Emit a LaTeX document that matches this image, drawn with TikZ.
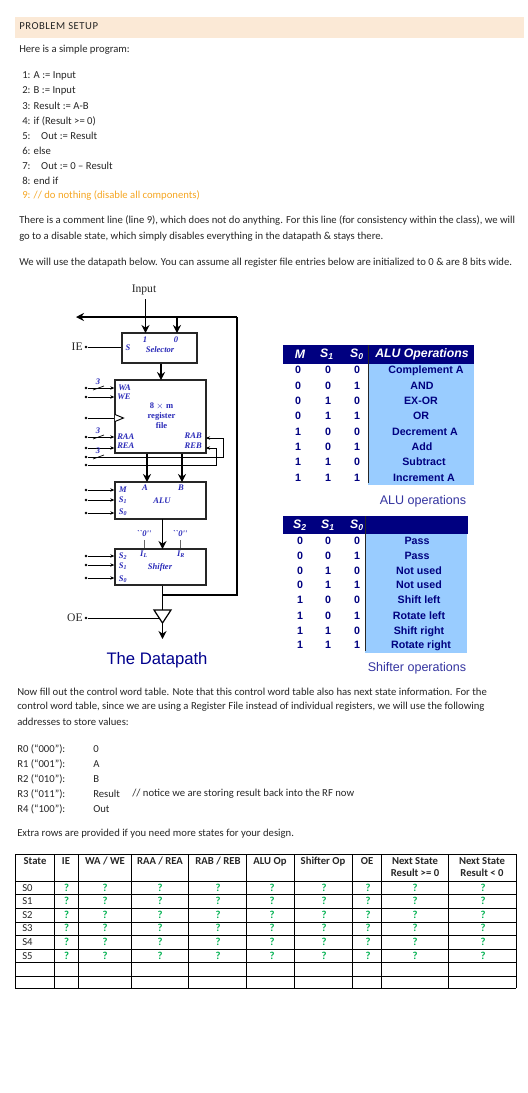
\documentclass[tikz,border=0pt]{standalone}
\usepackage{fontspec}
\setmainfont{Carlito}
\setsansfont{Liberation Sans}
\newfontfamily\dpfont{Liberation Serif}
\usetikzlibrary{arrows.meta,positioning,calc}
\definecolor{setupband}{HTML}{FBE9D6}
\definecolor{commentc}{HTML}{F5A623}
\definecolor{qmarkc}{HTML}{00B050}
\definecolor{labelblue}{HTML}{2A2AB8}
\definecolor{headnavy}{HTML}{000080}
\definecolor{opsfill}{HTML}{99CCFF}
\definecolor{capblue}{HTML}{33339F}
\def\px{0.75pt}
\tikzset{
  bodytxt/.style={anchor=west, inner sep=0pt, font=\fontsize{8}{9.5}\selectfont, text=black!85},
  codetxt/.style={bodytxt},
  cmttxt/.style={bodytxt, text=commentc},
  cellhead/.style={inner sep=0pt, align=center, font=\fontsize{8}{9}\selectfont\bfseries, text=black!85},
  qmark/.style={inner sep=0pt, font=\fontsize{8}{9}\selectfont\bfseries, text=qmarkc},
  gridline/.style={line width=0.75pt, color=black},
  % datapath
  blockbox/.style={draw=black!85, line width=1pt, fill=white, inner sep=0pt},
  dplabel/.style={inner sep=0pt, font=\dpfont\fontsize{6.4}{7}\selectfont\bfseries\itshape, text=labelblue, align=center},
  dpname/.style={inner sep=0pt, font=\dpfont\fontsize{8.7}{10}\selectfont, text=black!85},
  bus/.style={-{Stealth[length=6pt,width=6pt]}, line width=1.2pt, color=black},
  busline/.style={line width=1.2pt, color=black},
  wire/.style={-{Stealth[length=3pt,width=2.6pt]}, line width=0.5pt, color=black},
  plainwire/.style={line width=0.5pt, color=black},
  pindot/.style={circle, fill=black, inner sep=0pt, minimum size=2.2pt},
  % operation tables
  headbar/.style={fill=headnavy, draw=none},
  headtxt/.style={inner sep=0pt, font=\sffamily\fontsize{9.2}{10}\selectfont\bfseries\itshape, text=white},
  bittxt/.style={inner sep=0pt, text height=5.8pt, text depth=0pt, font=\sffamily\fontsize{8}{9}\selectfont\bfseries, text=headnavy},
  optxt/.style={inner sep=0pt, text height=5.8pt, text depth=0pt, font=\sffamily\fontsize{8}{9}\selectfont\bfseries, text=headnavy},
  optitle/.style={inner sep=0pt, font=\sffamily\fontsize{9.4}{11}\selectfont, text=capblue},
}
\begin{document}
\begin{tikzpicture}[x=0.75pt,y=-0.75pt]
  \useasboundingbox (0,0) rectangle (528,1093);
  % top text
  \fill[setupband] (15,17) rectangle (524,38);
  \node[bodytxt] (setup) at (19,26) {\addfontfeature{LetterSpace=5}PROBLEM SETUP};
  \node[bodytxt] (intro) at (19,50) {Here is a simple program:};
  \node[codetxt] (c1) at (22,76) {1: A := Input};
  \node[codetxt] (c2) at (22,91) {2: B := Input};
  \node[codetxt] (c3) at (22,106) {3: Result := A-B};
  \node[codetxt] (c4) at (22,121) {4: if (Result >= 0)};
  \node[codetxt] (c5) at (22,136) {5:\hspace{8pt}Out := Result};
  \node[codetxt] (c6) at (22,151) {6: else};
  \node[codetxt] (c7) at (22,166) {7:\hspace{8pt}Out := 0 -- Result};
  \node[codetxt] (c8) at (22,181) {8: end if};
  \node[cmttxt] (c9) at (22,196) {9: // do nothing (disable all components)};
  \node[bodytxt] (p1a) at (19,221) {There is a comment line (line 9), which does not do anything. For this line (for consistency within the class), we will};
  \node[bodytxt] (p1b) at (19,237) {go to a disable state, which simply disables everything in the datapath \& stays there.};
  \node[bodytxt] (p2) at (19,263) {We will use the datapath below. You can assume all register file entries below are initialized to 0 \& are 8 bits wide.};

  % datapath blocks
  \node[dpname] (input) at (144,290) {Input};
  \node[blockbox, minimum width=75*\px, minimum height=30*\px] (sel) at (159.5,348) {};
  \node[blockbox, minimum width=91*\px, minimum height=73*\px] (rf) at (160.5,416.5) {};
  \node[blockbox, minimum width=91*\px, minimum height=37*\px] (alu) at (160.5,500.5) {};
  \node[blockbox, minimum width=91*\px, minimum height=36*\px] (shf) at (160.5,567) {};
  \coordinate (instart) at (145.5,299);
  \coordinate (insel) at (145.5,333);
  \coordinate (zerosel) at (177,333);
  \coordinate (busend) at (76,317);
  \coordinate (buscorner) at (237,317);
  \coordinate (fbcorner) at (237,595);
  \coordinate (fbtap) at (162.5,595);
  \coordinate (rfin) at (161,380);
  \coordinate (aluA) at (147,482);
  \coordinate (aluB) at (182,482);
  \coordinate (shfin) at (162.5,549);
  \coordinate (aluout) at (162.5,519);
  \coordinate (triL) at (154,610);
  \coordinate (triR) at (171,610);
  \coordinate (triT) at (162.5,610);
  \coordinate (triB) at (162.5,623);
  \coordinate (triE) at (158.5,618);
  \coordinate (outend) at (162.5,639);
  % selector labels
  \node[dplabel] (l1) at (145,339.5) {1};
  \node[dplabel] (l0) at (176,339.5) {0};
  \node[dplabel] (ls) at (128,348) {S};
  \node[dplabel] (lsel) at (160,350) {Selector};
  % register file labels
  \node[dplabel, anchor=west] (lwa) at (118,388) {WA};
  \node[dplabel, anchor=west] (lwe) at (117,397) {WE};
  \node[dplabel, font=\dpfont\fontsize{6.4}{7}\selectfont\bfseries] (lrf) at (161.5,416) {8 $\times$ m\\[0.5pt]register\\[0.5pt]file};
  \node[dplabel, anchor=west] (lraa) at (117,437) {RAA};
  \node[dplabel, anchor=west] (lrea) at (117,446) {REA};
  \node[dplabel, anchor=east] (lrab) at (202,436) {RAB};
  \node[dplabel, anchor=east] (lreb) at (202,446) {REB};
  % alu labels
  \node[dplabel] (lm) at (123,490) {M};
  \node[dplabel] (ls1) at (123,500) {S\textsubscript{1}};
  \node[dplabel] (ls0) at (123,512) {S\textsubscript{0}};
  \node[dplabel] (la) at (145,488) {A};
  \node[dplabel] (lb) at (181,488) {B};
  \node[dplabel] (lalu) at (162,501) {ALU};
  % shifter labels
  \node[dplabel] (t2) at (123,556) {S\textsubscript{2}};
  \node[dplabel] (t1) at (123,566) {S\textsubscript{1}};
  \node[dplabel] (t0) at (123,579) {S\textsubscript{0}};
  \node[dplabel] (il) at (144,554) {I\textsubscript{L}};
  \node[dplabel] (ir) at (181,554) {I\textsubscript{R}};
  \node[dplabel] (lshf) at (160,567) {Shifter};
  \node[dplabel] (qzl) at (144,534) {``0''};
  \node[dplabel] (qzr) at (180,534) {``0''};

  % control pins
  \foreach \nm/\yy in {pie/347,pwa/388,pwe/397,pclk/418,praa/437,prea/448,pab/457,peb/465,pm/490,ps1/500,ps0/513,pt2/556,pt1/565,pt0/578,poe/618}
    \node[pindot] (\nm) at (86,\yy) {};
  \node[dpname, left=1pt of pie] (ie) {IE};
  \node[dpname, left=1pt of poe] (oe) {OE};
  \foreach \nm in {pwa,pwe,praa,prea}
    \draw[wire] (\nm) -- (rf.west |- \nm);
  \draw[plainwire] (pclk) -- (rf.west |- pclk);
  \foreach \nm in {pm,ps1,ps0}
    \draw[wire] (\nm) -- (alu.west |- \nm);
  \foreach \nm in {pt2,pt1,pt0}
    \draw[wire] (\nm) -- (shf.west |- \nm);
  \draw[plainwire] (pie) -- (sel.west |- pie);
  % 3-bit marks
  \foreach \nm/\ww in {pwa/w1,praa/w2,pab/w3} {
    \draw[plainwire] ($(\nm)+(7,2)$) -- ($(\nm)+(18,-2)$);
    \node[dplabel, font=\dpfont\fontsize{6.4}{7}\selectfont\bfseries\itshape] (\ww) at ($(\nm)+(12,-6)$) {3};
  }
  % read-port loops
  \coordinate (rab) at (206,438);
  \coordinate (reb) at (206,448);
  \draw[plainwire, {Stealth[length=3pt,width=2.6pt]}-] (rab) -- (223,438) -- (223,457) -- (pab);
  \draw[plainwire, {Stealth[length=3pt,width=2.6pt]}-] (reb) -- (216,448) -- (216,465) -- (peb);
  % clock mark
  \draw[line width=0.7pt, fill=white] (115,414.5) -- (123.5,418) -- (115,421.5);

  % data buses
  \draw[bus] (instart) -- (insel);
  \draw[busline] (fbtap) -- (fbcorner) -- (buscorner);
  \draw[bus] (buscorner) -- (busend);
  \draw[bus] (zerosel |- busend) -- (zerosel);
  \draw[bus] (rfin |- sel.south) -- (rfin);
  \draw[bus] (aluA |- rf.south) -- (aluA);
  \draw[bus] (aluB |- rf.south) -- (aluB);
  \draw[bus] (aluout) -- (shfin);
  \draw[plainwire, line width=0.7pt, color=black!60] ([yshift=-2pt]qzl.south) -- (qzl |- shf.north);
  \draw[plainwire, line width=0.7pt, color=black!60] ([yshift=-2pt]qzr.south) -- (qzr |- shf.north);
  \draw[busline] (triT |- shf.south) -- (triT);
  \draw[line width=0.9pt, fill=white] (triL) -- (triR) -- (triB) -- cycle;
  \draw[plainwire] (poe) -- (triE);
  \draw[bus] (triB) -- (outend);
  \node[inner sep=0pt, font=\sffamily\fontsize{12.5}{14}\selectfont, text=headnavy!90!blue] (dptitle) at (157,660) {The Datapath};

  % ALU table
  \fill[opsfill] (368,364) rectangle (474,485);
  \fill[headbar] (283,345) rectangle (474,364);
  \draw[black!85, line width=0.7pt] (368,345) -- (368,483);
  \node[headtxt] (hm) at (300,354.5) {M};
  \node[headtxt] (hs1) at (327,354.5) {S\textsubscript{1}};
  \node[headtxt] (hs0) at (357,354.5) {S\textsubscript{0}};
  \node[headtxt] (hops) at (422,354.5) {ALU Operations};
  \foreach \i/\yy/\a/\b/\c/\cx/\op in {1/370/0/0/0/426/Complement A,2/385.3/0/0/1/422/AND,3/400.7/0/1/0/421/EX-OR,4/416/0/1/1/421/OR,5/431.7/1/0/0/425/Decrement A,6/446.7/1/0/1/422/Add,7/462/1/1/0/424/Subtract,8/477.3/1/1/1/424/Increment A} {
    \node[bittxt] (am\i) at (298,\yy) {\a};
    \node[bittxt] (ab\i) at (328,\yy) {\b};
    \node[bittxt] (ac\i) at (357,\yy) {\c};
    \node[optxt] (aop\i) at (\cx,\yy) {\op};
  }
  \node[optitle] (alucap) at (423,501) {ALU operations};

  % shifter table
  \fill[opsfill] (365,534) rectangle (467,653);
  \fill[headbar] (283,516) rectangle (468,534);
  \draw[black!85, line width=0.7pt] (365,516) -- (365,651);
  \node[headtxt] (hs2) at (300,525) {S\textsubscript{2}};
  \node[headtxt] (hs1b) at (328,525) {S\textsubscript{1}};
  \node[headtxt] (hs0b) at (357,525) {S\textsubscript{0}};
  \foreach \i/\yy/\a/\b/\c/\cx/\op in {1/541/0/0/0/417/Pass,2/556/0/0/1/417/Pass,3/571/0/1/0/419/Not used,4/585/0/1/1/419/Not used,5/600/1/0/0/419/Shift left,6/616/1/0/1/419/Rotate left,7/631/1/1/0/419/Shift right,8/645/1/1/1/421/Rotate right} {
    \node[bittxt] (sm\i) at (300,\yy) {\a};
    \node[bittxt] (sb\i) at (328,\yy) {\b};
    \node[bittxt] (sc\i) at (357,\yy) {\c};
    \node[optxt] (sop\i) at (\cx,\yy) {\op};
  }
  \node[optitle] (shfcap) at (417,668) {Shifter operations};

  % lower text
  \node[bodytxt] (p3a) at (17,692) {Now fill out the control word table. Note that this control word table also has next state information. For the};
  \node[bodytxt] (p3b) at (17,707) {control word table, since we are using a Register File instead of individual registers, we will use the following};
  \node[bodytxt] (p3c) at (17,722) {addresses to store values:};
  \foreach \i/\yy/\rg/\val in {0/749/R0 (``000''):/0,1/764/R1 (``001''):/A,2/779/R2 (``010''):/B,3/794/R3 (``011''):/Result,4/809/R4 (``100''):/Out} {
    \node[bodytxt] (rg\i) at (17,\yy) {\rg};
    \node[bodytxt] (val\i) at (93,\yy) {\val};
  }
  \node[bodytxt] (rnote) at (132,794) {// notice we are storing result back into the RF now};
  \node[bodytxt] (extra) at (17,834) {Extra rows are provided if you need more states for your design.};

  % control word table
  \foreach \xx in {15,54,78,131,188,246,294,352,381,448,516}
    \draw[gridline] (\xx,854) -- (\xx,988);
  \foreach \yy in {854,881,894,908,922,935,949,962,976,988}
    \draw[gridline] (15,\yy) -- (516,\yy);
  \foreach \i/\xx/\hd in {1/35/State,2/66/IE,3/105/{WA / WE},4/160/{RAA / REA},5/218/{RAB / REB},6/270/ALU Op,7/323/Shifter Op,8/367/OE}
    \node[cellhead, text height=5.8pt, text depth=1.6pt] (th\i) at (\xx,862) {\hd};
  \node[cellhead, anchor=north] (th9) at (415,857) {Next State\\Result >= 0};
  \node[cellhead, anchor=north] (th10) at (482,857) {Next State\\Result < 0};
  \foreach \r/\yy in {0/888,1/901,2/915,3/928,4/942,5/956} {
    \node[bodytxt] (st\r) at (22,\yy) {S\r};
    \foreach \c/\xx in {1/66.5,2/105,3/160,4/218,5/272,6/324,7/368,8/415,9/483}
      \node[qmark] (q\r\c) at (\xx,\yy) {?};
  }
\end{tikzpicture}
\end{document}
